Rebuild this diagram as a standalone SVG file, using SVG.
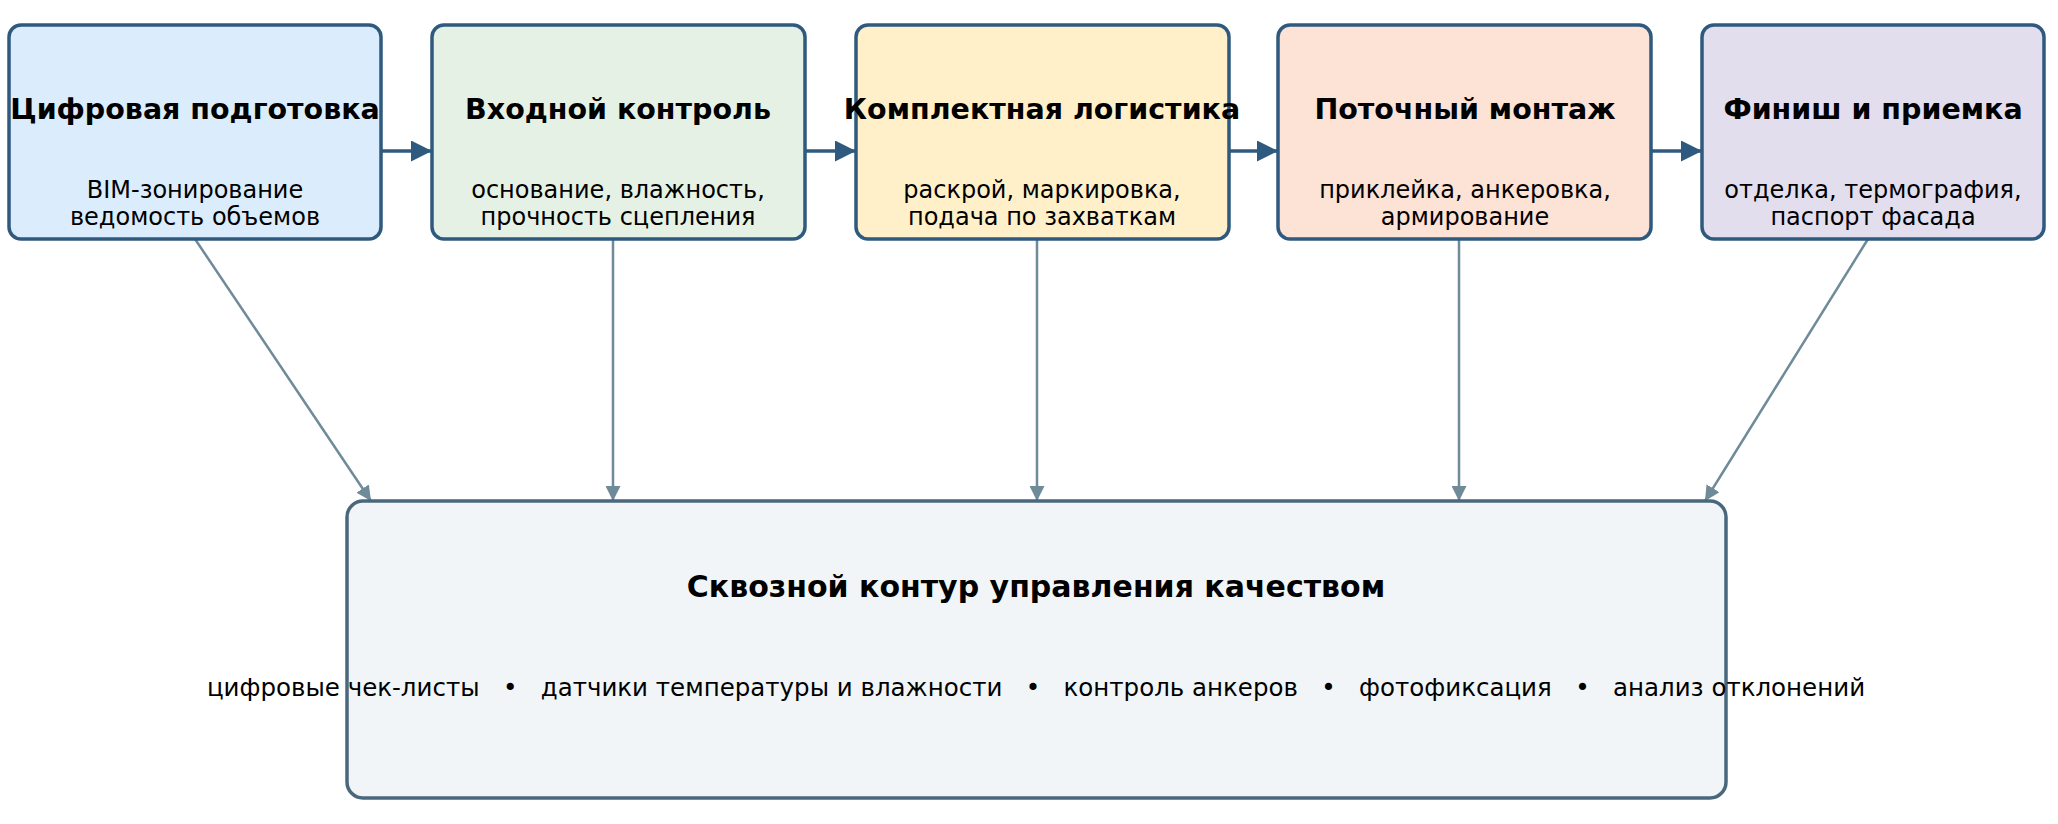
<svg xmlns="http://www.w3.org/2000/svg" width="2058" height="824" viewBox="0 0 2058 824">
<style>
.n{stroke:#2f5a7f;stroke-width:3.5}
.t{font-family:"DejaVu Sans",sans-serif;font-weight:bold;font-size:28.5px;text-anchor:middle;fill:#000}
.s{font-family:"DejaVu Sans",sans-serif;font-size:24px;text-anchor:middle;fill:#000}
.f{stroke:#2f5a7f;stroke-width:3.5;fill:none;marker-end:url(#a)}
.c{stroke:#6f8a99;stroke-width:2.5;fill:none;marker-end:url(#b)}
</style>
<defs>
<marker id="a" viewBox="0 0 10 10" refX="10" refY="5" markerWidth="6" markerHeight="6" orient="auto"><path d="M0,0L10,5L0,10z" fill="#2f5a7f"/></marker>
<marker id="b" viewBox="0 0 10 10" refX="10" refY="5" markerWidth="6" markerHeight="6" orient="auto"><path d="M0,0L10,5L0,10z" fill="#6f8a99"/></marker>
</defs>
<rect width="2058" height="824" fill="#fff"/>
<g id="connectors">
<path class="f" d="M381,151H432"/>
<path class="f" d="M805,151H856"/>
<path class="f" d="M1229,151H1278"/>
<path class="f" d="M1651,151H1702"/>
<path class="c" d="M195,239L371,501"/>
<path class="c" d="M613,239V501"/>
<path class="c" d="M1037,239V501"/>
<path class="c" d="M1459,239V501"/>
<path class="c" d="M1868,239L1705,501"/>
</g>
<g id="n1"><rect class="n" x="9" y="25" width="372" height="214" rx="12" fill="#dbecfd"/>
<text class="t" x="195" y="119">Цифровая подготовка</text>
<text class="s" x="195" y="198">BIM-зонирование</text><text class="s" x="195" y="225">ведомость объемов</text></g>
<g id="n2"><rect class="n" x="432" y="25" width="373" height="214" rx="12" fill="#e6f1e5"/>
<text class="t" x="618" y="119">Входной контроль</text>
<text class="s" x="618" y="198">основание, влажность,</text><text class="s" x="618" y="225">прочность сцепления</text></g>
<g id="n3"><rect class="n" x="856" y="25" width="373" height="214" rx="12" fill="#fff0c9"/>
<text class="t" x="1042" y="119">Комплектная логистика</text>
<text class="s" x="1042" y="198">раскрой, маркировка,</text><text class="s" x="1042" y="225">подача по захваткам</text></g>
<g id="n4"><rect class="n" x="1278" y="25" width="373" height="214" rx="12" fill="#fde2d6"/>
<text class="t" x="1465" y="119">Поточный монтаж</text>
<text class="s" x="1465" y="198">приклейка, анкеровка,</text><text class="s" x="1465" y="225">армирование</text></g>
<g id="n5"><rect class="n" x="1702" y="25" width="342" height="214" rx="12" fill="#e3deed"/>
<text class="t" x="1873" y="119">Финиш и приемка</text>
<text class="s" x="1873" y="198">отделка, термография,</text><text class="s" x="1873" y="225">паспорт фасада</text></g>
<g id="n6"><rect x="347" y="501" width="1379" height="297" rx="16" fill="#f1f5f8" stroke="#4a687c" stroke-width="3.5"/>
<text class="t" x="1036" y="597" style="font-size:30px">Сквозной контур управления качеством</text>
<text class="s" x="1036" y="696" style="font-size:24.5px;white-space:pre" xml:space="preserve">цифровые чек-листы   •   датчики температуры и влажности   •   контроль анкеров   •   фотофиксация   •   анализ отклонений</text></g>
</svg>
